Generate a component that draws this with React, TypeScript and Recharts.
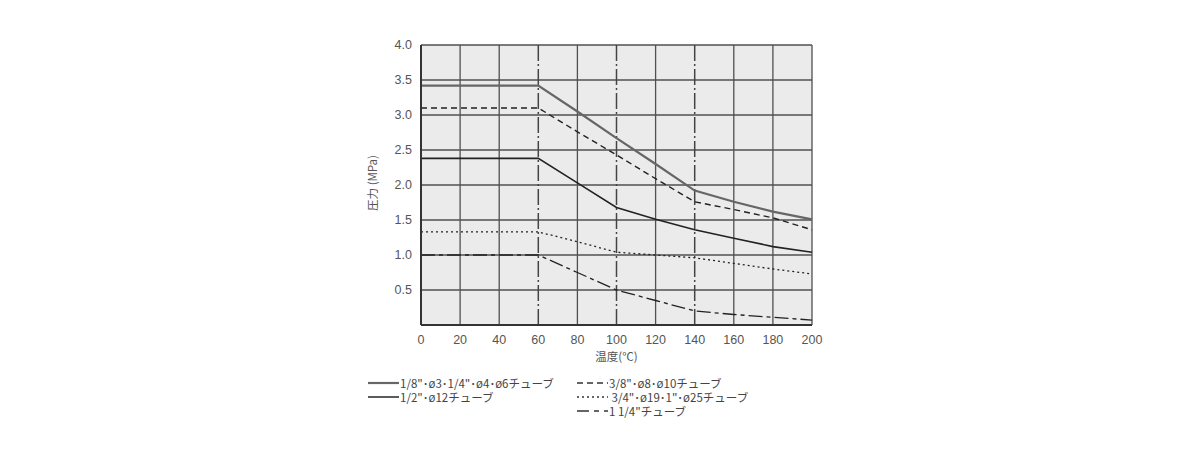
import React from 'react';
import { LineChart, Line, XAxis, YAxis, CartesianGrid, ReferenceLine } from 'recharts';

// temperature (°C) on x, pressure (MPa) on y
const temps = [0, 20, 40, 60, 80, 100, 120, 140, 160, 180, 200];
const tube18 = [3.42, 3.42, 3.42, 3.42, 3.05, 2.67, 2.3, 1.92, 1.76, 1.62, 1.51];
const tube38 = [3.1, 3.1, 3.1, 3.1, 2.76, 2.43, 2.09, 1.76, 1.65, 1.53, 1.36];
const tube12 = [2.38, 2.38, 2.38, 2.38, 2.03, 1.68, 1.51, 1.36, 1.24, 1.12, 1.04];
const tube34 = [1.33, 1.33, 1.33, 1.33, 1.19, 1.04, 1.0, 0.96, 0.88, 0.8, 0.73];
const tube114 = [1.0, 1.0, 1.0, 1.0, 0.75, 0.5, 0.35, 0.2, 0.15, 0.11, 0.07];

const xTicks = [0, 20, 40, 60, 80, 100, 120, 140, 160, 180, 200];
const yTicks = [0.5, 1.0, 1.5, 2.0, 2.5, 3.0, 3.5, 4.0];
const gridX = [20, 40, 80, 120, 160, 180, 200];
const markerX = [60, 100, 140];

const data = temps.map((t, i) => ({
  t,
  a: tube18[i],
  b: tube38[i],
  c: tube12[i],
  d: tube34[i],
  e: tube114[i],
}));

const numFont = '"Liberation Sans", Arial, sans-serif';
const jpFont = '"Noto Sans CJK JP", "Noto Sans", sans-serif';

const legendItems = [
  { label: '1/8"･ø3･1/4"･ø4･ø6チューブ', color: '#666', width: 2.2, dash: undefined, x: 368, y: 383 },
  { label: '1/2"･ø12チューブ', color: '#333', width: 1.6, dash: undefined, x: 368, y: 397 },
  { label: '3/8"･ø8･ø10チューブ', color: '#333', width: 1.4, dash: '6 4', x: 577, y: 383 },
  { label: ' 3/4"･ø19･1"･ø25チューブ', color: '#333', width: 1.3, dash: '2 3', x: 577, y: 397 },
  { label: '1 1/4"チューブ', color: '#333', width: 1.3, dash: '12 5 5 5', x: 577, y: 411 },
];

const App: React.FC = () => {
  return (
    <div style={{ position: 'absolute', left: 0, top: 0, width: 1198, height: 450, background: '#fff' }}>
      <LineChart width={1198} height={450} data={data} margin={{ top: 45, right: 386, left: 381, bottom: 95 }}>
        <CartesianGrid
          stroke="#505050"
          strokeWidth={1.3}
          fill="#ebebeb"
          fillOpacity={1}
          horizontalValues={yTicks}
          verticalValues={gridX}
        />
        {markerX.map(x => (
          <ReferenceLine key={x} x={x} stroke="#444" strokeWidth={1.5} strokeDasharray="16 3 2 3" />
        ))}
        <XAxis
          dataKey="t"
          type="number"
          domain={[0, 200]}
          ticks={xTicks}
          height={30}
          tickLine={false}
          axisLine={{ stroke: '#333', strokeWidth: 2 }}
          tick={{ fill: '#555', fontSize: 12.5, fontFamily: numFont }}
          tickMargin={4}
          label={{ value: '温度(℃)', position: 'insideBottom', offset: -6, fill: '#555', fontSize: 11.5, fontFamily: jpFont }}
        />
        <YAxis
          type="number"
          domain={[0, 4]}
          ticks={yTicks}
          width={40}
          tickLine={false}
          axisLine={{ stroke: '#333', strokeWidth: 2 }}
          tick={{ fill: '#555', fontSize: 12.5, fontFamily: numFont }}
          tickMargin={3}
          tickFormatter={(v: number) => v.toFixed(1)}
        />
        <Line dataKey="a" stroke="#666" strokeWidth={2.2} dot={false} isAnimationActive={false} />
        <Line dataKey="b" stroke="#222" strokeWidth={1.4} strokeDasharray="6 4" dot={false} isAnimationActive={false} />
        <Line dataKey="c" stroke="#222" strokeWidth={1.6} dot={false} isAnimationActive={false} />
        <Line dataKey="d" stroke="#222" strokeWidth={1.3} strokeDasharray="2 3" dot={false} isAnimationActive={false} />
        <Line dataKey="e" stroke="#222" strokeWidth={1.3} strokeDasharray="14 4 4 4" dot={false} isAnimationActive={false} />
      </LineChart>

      {/* y axis title */}
      <div
        style={{
          position: 'absolute',
          left: 372,
          top: 183,
          transform: 'translate(-50%, -50%) rotate(-90deg)',
          whiteSpace: 'nowrap',
          fontFamily: jpFont,
          fontSize: 11.5,
          color: '#555',
        }}
      >
        圧力 (MPa)
      </div>

      {/* legend */}
      {legendItems.map(item => (
        <div
          key={item.label}
          style={{
            position: 'absolute',
            left: item.x,
            top: item.y - 6,
            height: 12,
            display: 'flex',
            alignItems: 'center',
            whiteSpace: 'pre',
            fontFamily: jpFont,
            fontSize: 11.5,
            lineHeight: '12px',
            color: '#444',
          }}
        >
          <svg width={31} height={12} style={{ marginRight: 1 }}>
            <line x1={0} y1={6} x2={31} y2={6} stroke={item.color} strokeWidth={item.width} strokeDasharray={item.dash} />
          </svg>
          <span style={{ lineHeight: '12px' }}>{item.label}</span>
        </div>
      ))}
    </div>
  );
};

export default App;
